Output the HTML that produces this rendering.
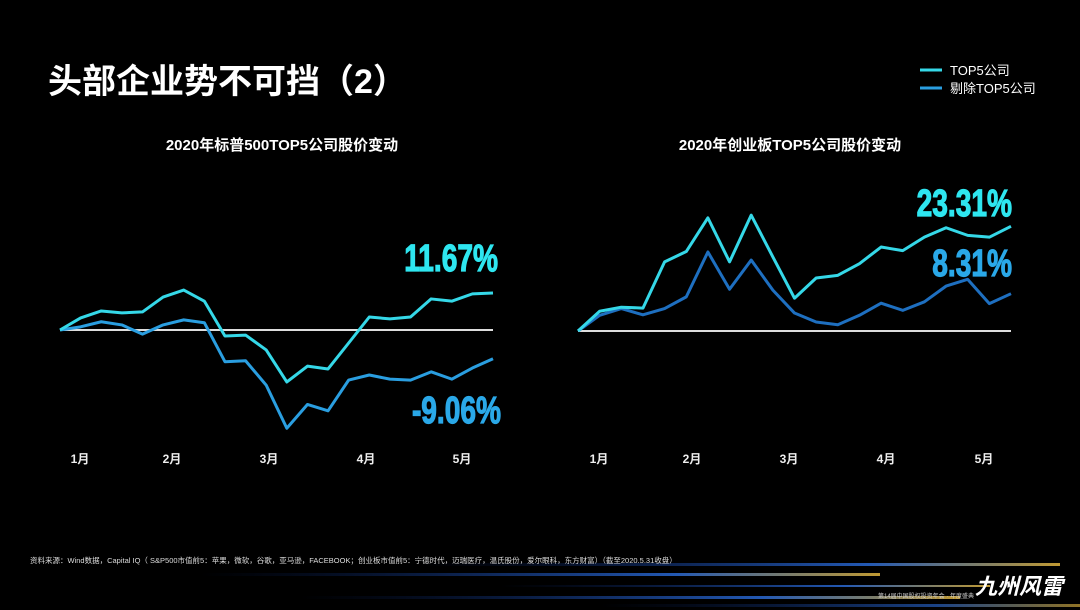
<!DOCTYPE html>
<html><head><meta charset="utf-8"><style>
body{margin:0;background:#000;width:1080px;height:610px;overflow:hidden;font-family:"Liberation Sans","Noto Sans CJK SC",sans-serif;color:#fff}
svg{position:absolute;left:0;top:0}
</style></head><body>
<svg width="1080" height="610">
<defs>
<linearGradient id="s1" x1="0" x2="1"><stop offset="0" stop-color="#0a2a80" stop-opacity="0"/><stop offset="0.7" stop-color="#2c6fe0"/><stop offset="1" stop-color="#f0c040"/></linearGradient>
</defs>
<text x="48" y="93" font-size="34" font-weight="bold" fill="#fff">头部企业势不可挡（2）</text>
<g>
<line x1="920" y1="70" x2="942" y2="70" stroke="#35d8e8" stroke-width="3"/>
<text x="950" y="75" font-size="13" fill="#fff">TOP5公司</text>
<line x1="920" y1="88" x2="942" y2="88" stroke="#2a9ee0" stroke-width="3"/>
<text x="950" y="93" font-size="13" fill="#fff">剔除TOP5公司</text>
</g>
<text x="282" y="150" font-size="15" font-weight="bold" text-anchor="middle" fill="#fff">2020年标普500TOP5公司股价变动</text>
<text x="790" y="150" font-size="15" font-weight="bold" text-anchor="middle" fill="#fff">2020年创业板TOP5公司股价变动</text>
<g id="charts"></g>
<g>
<rect x="420" y="563" width="640" height="3" fill="url(#s1)" opacity="0.8"/>
<rect x="200" y="573" width="680" height="3" fill="url(#s1)" opacity="0.8"/>
<rect x="500" y="585" width="490" height="2" fill="url(#s1)" opacity="0.8"/>
<rect x="300" y="596" width="660" height="3" fill="url(#s1)" opacity="0.8"/>
<rect x="600" y="604" width="480" height="3" fill="url(#s1)" opacity="0.6"/>
</g>
<text x="975" y="594" font-size="22" font-style="italic" font-weight="bold" fill="#fff">九州风雷</text>
<text x="878" y="598" font-size="6" fill="#ccc">第14届中国股权投资年会 · 年度盛典</text>
<text x="30" y="563" font-size="7.5" fill="#ddd">资料来源：Wind数据，Capital IQ（ S&amp;P500市值前5：苹果，微软，谷歌，亚马逊，FACEBOOK；创业板市值前5：宁德时代，迈瑞医疗，温氏股份，爱尔眼科，东方财富）（截至2020.5.31收盘）</text>
</svg>
<script>
const leftTop5=[0,3.8,6.0,5.4,5.7,10.4,12.6,9.1,-1.9,-1.6,-6.3,-16.4,-11.4,-12.3,-4.1,4.1,3.5,4.1,9.8,9.1,11.4,11.67];
const leftRest=[0,1,2.6,1.6,-1.3,1.6,3.2,2.3,-10,-9.7,-17.4,-31,-23.5,-25.5,-15.8,-14.2,-15.5,-15.8,-13.2,-15.5,-12,-9.06];
const rightTop5=[0,4.4,5.3,5.1,15.4,17.7,25.2,15.4,25.8,16.5,7.3,11.8,12.4,15,18.7,17.9,20.9,23,21.3,20.9,23.31];
const rightRest=[0,3.5,5,3.6,5,7.6,17.6,9.3,15.8,9.1,4,2,1.4,3.5,6.2,4.6,6.5,10,11.5,6.1,8.31];
const months=["1月","2月","3月","4月","5月"];
const leftLabels=["11.67%","-9.06%"];
const rightLabels=["23.31%","8.31%"];
const NS="http://www.w3.org/2000/svg";
const g=document.getElementById('charts');
function mk(t,a){const e=document.createElementNS(NS,t);for(const k in a)e.setAttribute(k,a[k]);g.appendChild(e);return e;}
function chart(side,x0,x1,base,ppu,s1,s2,c2,labels,ly,tickX){
  const n=Math.max(s1.length,s2.length);
  const xs=i=>x0+(x1-x0)*i/(n-1), ys=v=>base-v*ppu;
  const bl=mk('line',{x1:x0,x2:x1,y1:base,y2:base,stroke:'#ddd','stroke-width':2});
  
  [[s2,c2,'rest'],[s1,'#35d8e8','top5']].forEach(([s,c,nm])=>{
    const p=mk('polyline',{points:s.map((v,i)=>xs(i)+','+ys(v)).join(' '),fill:'none',stroke:c,'stroke-width':3,'stroke-linejoin':'round'});
    
  });
  const cols=['#2ee6f0','#2aa8e8'];
  labels.forEach((l,k)=>{
    const t=mk('text',{x:0,y:0,'font-size':38,'font-weight':'bold',fill:cols[k],stroke:cols[k],'stroke-width':1.2,'text-anchor':'end',transform:`translate(${x1+(side==='left'&&k===1?8:(side==='left'?5:1))},${ly[k]}) scale(0.74,1)`});
    t.textContent=l;
  });
  months.forEach((m,i)=>{
    const t=mk('text',{x:tickX[i],y:463,'font-size':12,'font-weight':'bold',fill:'#eee','text-anchor':'middle'});
    t.textContent=m;
  });
}
chart('left',60,493,330,3.17,leftTop5,leftRest,'#2a9ee0',leftLabels,[271,423],[80,172,269,366,462]);
chart('right',578,1011,331,4.49,rightTop5,rightRest,'#1e6fc0',rightLabels,[216,276],[599,692,789,886,984]);
</script>
</body></html>
